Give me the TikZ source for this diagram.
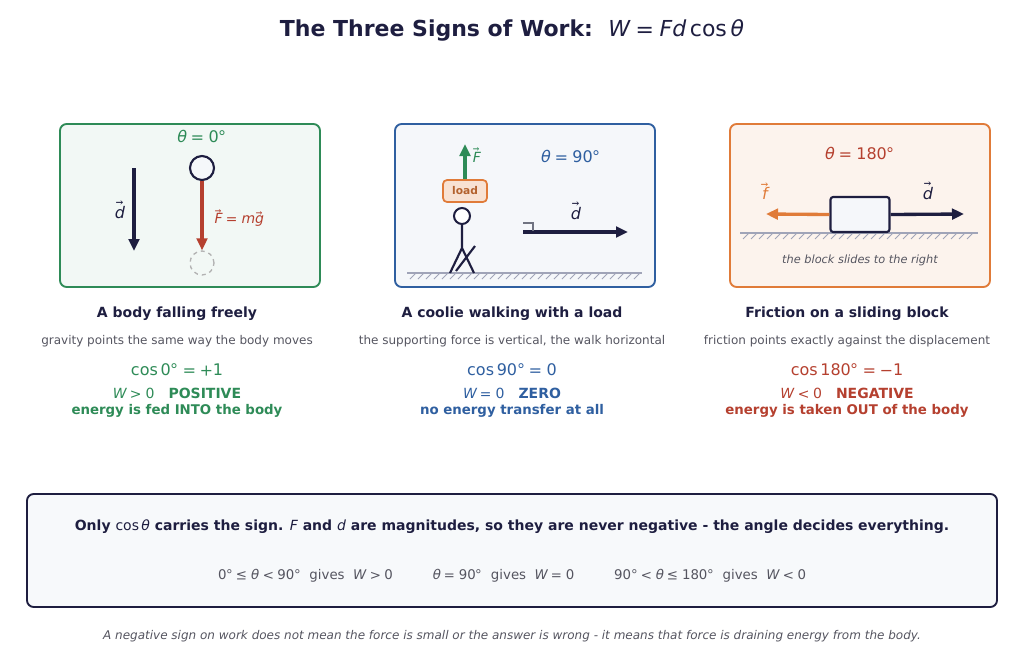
\documentclass[tikz,border=0pt]{standalone}
\usepackage{fontspec}
\setmainfont{DejaVu Sans}
\usepackage{unicode-math}
\setmathfont{DejaVu Math TeX Gyre}
\setmathfont{DejaVu Sans Oblique}[range=it/{latin,Latin,greek}]
\setmathfont{DejaVu Sans}[range=up/{num}]
\usetikzlibrary{arrows.meta,positioning}
\definecolor{navy}{HTML}{1E1E40}
\definecolor{grn}{HTML}{2E8B57}
\definecolor{blu}{HTML}{2F5FA0}
\definecolor{org}{HTML}{E07B39}
\definecolor{rd}{HTML}{B5402F}
\definecolor{txtgray}{HTML}{555560}
\definecolor{grd}{HTML}{A0A4B8}
\tikzset{
  panel/.style={draw, rounded corners=5pt, line width=1.4pt},
  vec/.style={-{Triangle[length=9pt,width=8pt]}, line width=2.5pt},
  caption/.style={font=\fontsize{10.5}{12}\selectfont\bfseries, text=navy},
  sub/.style={font=\fontsize{9}{10}\selectfont, text=txtgray},
  lbl/.style={font=\fontsize{12}{14}\selectfont},
}
\begin{document}
\begin{tikzpicture}[x=0.75pt,y=-0.75pt]
\useasboundingbox (0,0) rectangle (1024,662);

% title
\node[font=\fontsize{16.5}{20}\selectfont\bfseries, text=navy] (title) at (512,30)
  {The Three Signs of Work:\ \ \mdseries$W = Fd\cos\theta$};

% panels
\draw[panel, draw=grn, fill=grn!6] (60,124) rectangle (320,287);
\draw[panel, draw=blu, fill=blu!5] (395,124) rectangle (655,287);
\draw[panel, draw=org, fill=org!9] (730,124) rectangle (990,287);

% falling body
\node[lbl, text=grn] (th1) at (202,136) {$\theta = 0°$};
\node[circle, draw=navy, fill=blu!5, line width=1.6pt, minimum size=24pt*0.75, inner sep=0] (ball) at (202,168) {};
\node[circle, draw=gray!60, dashed, line width=1pt, minimum size=24pt*0.75, inner sep=0] (ghost) at (202,263) {};
\draw[vec, rd] (ball.south) -- (ghost.north);
\node[text=rd, font=\fontsize{10.5}{12}\selectfont, anchor=west] (F1) at (210,218) {$\vec F = m\vec g$};
\coordinate (d1a) at (134,168);
\coordinate (d1b) at (134,251);
\draw[vec, navy] (d1a) -- (d1b);
\node[lbl, text=navy] (d1) at (120,210) {$\vec d$};

% coolie
\foreach \hx in {410,418,...,640} \draw[grd, line width=0.7pt] (\hx,279) -- (\hx+6,273);
\draw[grd, line width=1.3pt] (407,273) -- (642,273);
\node[draw=org, fill=org!22, rounded corners=3pt, line width=1.3pt, minimum width=44pt*0.75, minimum height=22pt*0.75, inner sep=0,
  font=\fontsize{8}{9}\selectfont\bfseries, text=org!80!black] (load) at (465,191) {load};
\coordinate (Ftip) at (465,144);
\draw[vec, grn] (load.north) -- (Ftip);
\node[text=grn, font=\fontsize{10.5}{12}\selectfont] (F2) at (477,155) {$\vec F$};
\node[circle, draw=navy, fill=white, line width=1.5pt, minimum size=16pt*0.75, inner sep=0] (headc) at (462,216) {};
\draw[navy, line width=1.6pt] (headc.south) -- (462,248) coordinate (hip)
  (450,273) -- (hip) -- (474,273) (456,271) -- (475,246);
\node[lbl, text=blu] (th2) at (571,156) {$\theta = 90°$};
\coordinate (d2a) at (523,232);
\coordinate (d2b) at (628,232);
\draw[vec, navy] (d2a) -- (d2b);
\draw[grd!70!black, line width=0.8pt] (523,223) -- (533,223) -- (533,231);
\node[lbl, text=navy] (d2) at (576,211) {$\vec d$};

% sliding block
\foreach \hx in {743,751,...,973} \draw[grd, line width=0.7pt] (\hx,239) -- (\hx+6,233);
\draw[grd, line width=1.3pt] (740,233) -- (978,233);
\node[lbl, text=rd] (th3) at (860,153) {$\theta = 180°$};
\node[draw=navy, fill=blu!5, rounded corners=2pt, line width=1.6pt, minimum width=59pt*0.75, minimum height=35pt*0.75, inner sep=0] (block) at (860,214.5) {};
\coordinate (ftip) at (766,214);
\coordinate (dtip) at (964,214);
\draw[vec, org] (block.west) -- (ftip);
\draw[vec, navy] (block.east) -- (dtip);
\node[lbl, text=org] (f3) at (765,191) {$\vec f$};
\node[lbl, text=navy] (d3) at (928,191) {$\vec d$};
\node[font=\fontsize{8.5}{10}\selectfont\itshape, text=txtgray] (slide) at (860,260) {the block slides to the right};

% captions
\node[caption] (c1) at (177,314) {A body falling freely};
\node[sub] (s1) at (177,341) {gravity points the same way the body moves};
\node[lbl, text=grn] (k1) at (177,370) {$\cos 0° = +1$};
\node[font=\fontsize{10.5}{12}\selectfont, text=grn] (w1) at (177,393) {$W>0$\quad\textbf{POSITIVE}};
\node[font=\fontsize{10}{11}\selectfont\bfseries, text=grn] (e1) at (177,411) {energy is fed INTO the body};

\node[caption] (c2) at (512,314) {A coolie walking with a load};
\node[sub] (s2) at (512,341) {the supporting force is vertical, the walk horizontal};
\node[lbl, text=blu] (k2) at (512,370) {$\cos 90° = 0$};
\node[font=\fontsize{10.5}{12}\selectfont, text=blu] (w2) at (512,393) {$W=0$\quad\textbf{ZERO}};
\node[font=\fontsize{10}{11}\selectfont\bfseries, text=blu] (e2) at (512,411) {no energy transfer at all};

\node[caption] (c3) at (847,314) {Friction on a sliding block};
\node[sub] (s3) at (847,341) {friction points exactly against the displacement};
\node[lbl, text=rd] (k3) at (847,370) {$\cos 180° = -1$};
\node[font=\fontsize{10.5}{12}\selectfont, text=rd] (w3) at (847,393) {$W<0$\quad\textbf{NEGATIVE}};
\node[font=\fontsize{10}{11}\selectfont\bfseries, text=rd] (e3) at (847,411) {energy is taken OUT of the body};

% summary
\draw[panel, draw=navy, fill=blu!4] (27,494) rectangle (997,607);
\node[font=\fontsize{10.5}{12}\selectfont\bfseries, text=navy] (rule) at (512,527)
  {Only $\cos\theta$ carries the sign. $F$ and $d$ are magnitudes, so they are never negative - the angle decides everything.};
\node[font=\fontsize{10}{11}\selectfont, text=txtgray] (cases) at (512,576)
  {$0°\le\theta<90°$\ \ gives\ \ $W>0$\hspace{30pt}$\theta=90°$\ \ gives\ \ $W=0$\hspace{30pt}$90°<\theta\le180°$\ \ gives\ \ $W<0$};
\node[font=\fontsize{9}{10}\selectfont\itshape, text=txtgray] (foot) at (512,636)
  {A negative sign on work does not mean the force is small or the answer is wrong - it means that force is draining energy from the body.};
\end{tikzpicture}
\end{document}
